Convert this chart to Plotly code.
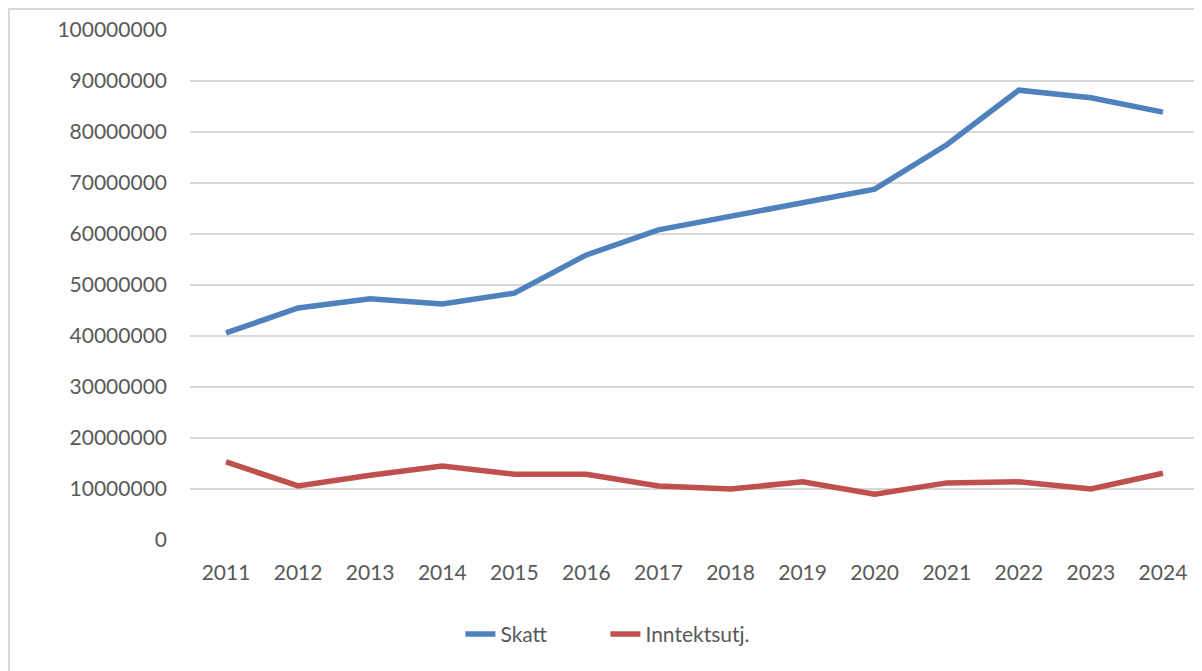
import plotly.graph_objects as go

years = ["2011", "2012", "2013", "2014", "2015", "2016", "2017",
         "2018", "2019", "2020", "2021", "2022", "2023", "2024"]
skatt = [40.6e6, 45.5e6, 47.3e6, 46.3e6, 48.4e6, 55.9e6, 60.8e6,
         63.5e6, 66.3e6, 68.8e6, 77.5e6, 88.2e6, 86.7e6, 83.9e6]
inntektsutj = [15.3e6, 10.6e6, 12.7e6, 14.5e6, 12.9e6, 12.9e6, 10.6e6,
               10.0e6, 11.4e6, 9.0e6, 11.2e6, 11.4e6, 10.0e6, 13.1e6]
y_ticks = [i * 10000000 for i in range(11)]

FONT = "Lato"
TXT = "#595959"
GRID = "#D9D9D9"

fig = go.Figure()
fig.add_trace(go.Scatter(x=years, y=skatt, name="Skatt", mode="lines",
                         line=dict(color="#4F81BD", width=5.5)))
fig.add_trace(go.Scatter(x=years, y=inntektsutj, name="Inntektsutj.", mode="lines",
                         line=dict(color="#C0504D", width=5.5)))

fig.update_layout(
    width=1194, height=663,
    margin=dict(l=182, r=3, t=22, b=131),
    paper_bgcolor="white", plot_bgcolor="white",
    font=dict(family=FONT, size=21, color=TXT),
    showlegend=True,
    legend=dict(orientation="h", x=0.268, xanchor="left", y=-0.185, yanchor="middle",
                font=dict(family=FONT, size=21, color=TXT),
                entrywidth=100, entrywidthmode="pixels",
                traceorder="normal"),
    xaxis=dict(type="category", range=[-0.5, 13.5], showgrid=False, showline=False,
               ticks="", ticklabelstandoff=18, zeroline=False),
    yaxis=dict(range=[0, 100000000], tickvals=y_ticks, tickformat="d",
               showgrid=True, gridcolor=GRID, gridwidth=2, zeroline=False,
               showline=False, ticks="", ticklabelstandoff=22),
    shapes=[dict(type="rect", xref="paper", yref="paper",
                 x0=(1 - 182) / 1009, x1=1.02, y0=-0.3, y1=(532 - 1) / 510,
                 line=dict(color=GRID, width=2), fillcolor="rgba(0,0,0,0)",
                 layer="below")],
)

fig.write_html("out.html")
